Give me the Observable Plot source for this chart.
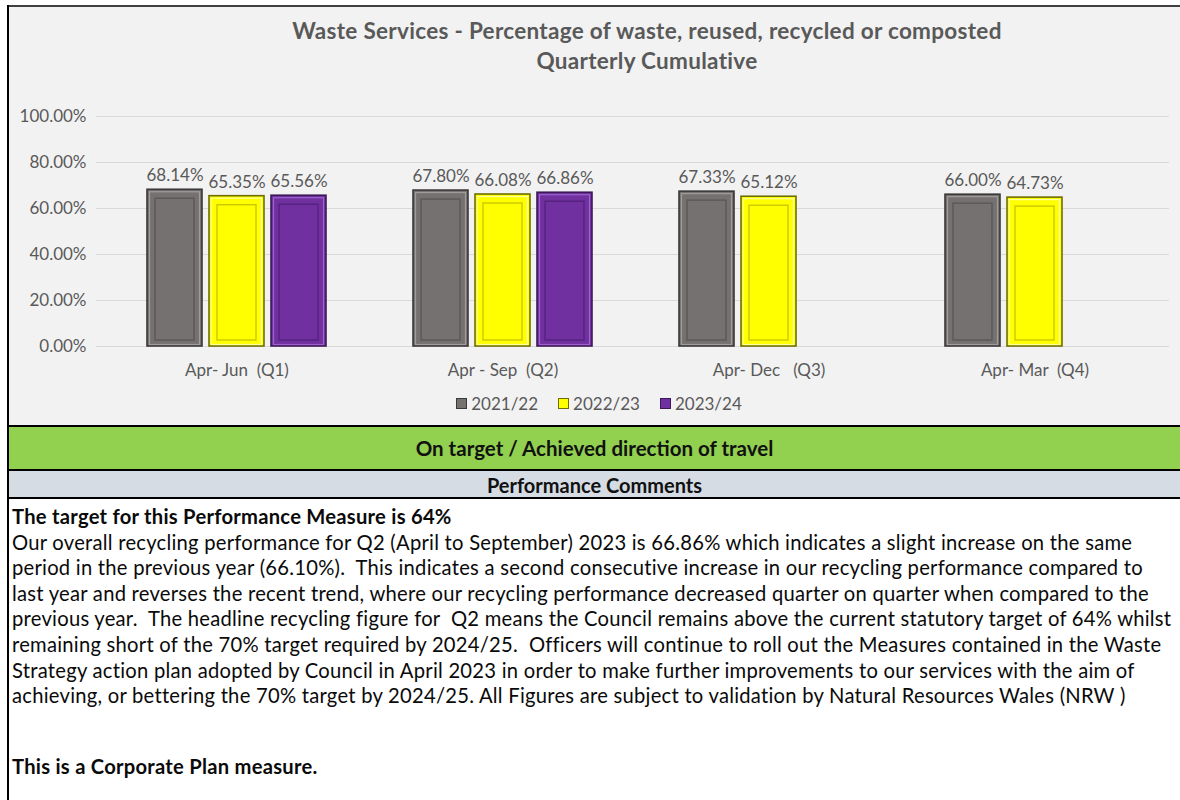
<!DOCTYPE html>
<html>
<head>
<meta charset="utf-8">
<script src="https://cdn.jsdelivr.net/npm/d3@7"></script>
<script src="https://cdn.jsdelivr.net/npm/@observablehq/plot@0.6"></script>
<style>
  html, body { margin: 0; padding: 0; background: #fff; }
  #page { position: relative; width: 1180px; height: 800px; overflow: hidden; font-family: Lato, "Open Sans", sans-serif; }
  .abs { position: absolute; }
  #leftBorder { left: 7px; top: 5px; width: 2px; height: 795px; background: #000; }
  #panel { left: 9px; top: 5px; width: 1171px; height: 418px; background: #f2f2f2; border-top: 2px solid #404040; }
  #title { left: 95px; top: 16px; width: 1104px; text-align: center; font-weight: bold; font-size: 22.5px; letter-spacing: 0.3px; line-height: 30px; color: #595959; }
  #chart { left: 9px; top: 95px; }
  #legend { left: 18px; top: 393px; width: 1162px; height: 20px; display: flex; justify-content: center; align-items: center; gap: 20px; font-size: 17px; color: #595959; }
  .item { display: flex; align-items: center; gap: 4px; }
  .sw { width: 9px; height: 9px; border: 1px solid #333; }
  #green { left: 9px; top: 425px; width: 1171px; height: 42px; background: #92d050; border-top: 2px solid #000; border-bottom: 2px solid #000; text-align: center; line-height: 42px; font-weight: bold; font-size: 20.5px; color: #111; }
  #grey { left: 9px; top: 471px; width: 1171px; height: 26px; background: #d6dce4; border-bottom: 2px solid #000; text-align: center; line-height: 28px; font-weight: bold; font-size: 20px; color: #111; }
  #body { left: 12px; top: 504px; font-size: 20.2px; letter-spacing: 0.25px; line-height: 25.6px; color: #0a0a0a; white-space: pre; }
  #body .b { font-weight: bold; }
  #footer { left: 12px; top: 754px; font-size: 20.2px; letter-spacing: 0.25px; line-height: 25.6px; color: #0a0a0a; font-weight: bold; white-space: pre; }
</style>
</head>
<body>
<div id="page">
  <div id="panel" class="abs"></div>
  <div id="leftBorder" class="abs"></div>
  <div id="title" class="abs"></div>
  <div id="chart" class="abs"></div>
  <div id="legend" class="abs"></div>
  <div id="green" class="abs"></div>
  <div id="grey" class="abs"></div>
  <div id="body" class="abs"></div>
  <div id="footer" class="abs"></div>
</div>
<script>
// ---- Data ----
const titleLines = ["Waste Services - Percentage of waste, reused, recycled or composted", "Quarterly Cumulative"];
const quarters = ["Apr- Jun\u00a0\u00a0(Q1)", "Apr - Sep\u00a0\u00a0(Q2)", "Apr- Dec\u00a0\u00a0\u00a0(Q3)", "Apr- Mar\u00a0\u00a0(Q4)"];
const years = ["2021/22", "2022/23", "2023/24"];
const values2021 = [68.14, 67.80, 67.33, 66.00];
const values2022 = [65.35, 66.08, 65.12, 64.73];
const values2023 = [65.56, 66.86, null, null];
const yTicks = [0, 20, 40, 60, 80, 100];
const statusText = "On target / Achieved direction of travel";
const commentsHeader = "Performance Comments";
const commentLines = [
  "Our overall recycling performance for Q2 (April to September) 2023 is 66.86% which indicates a slight increase on the same",
  "period in the previous year (66.10%).  This indicates a second consecutive increase in our recycling performance compared to",
  "last year and reverses the recent trend, where our recycling performance decreased quarter on quarter when compared to the",
  "previous year.  The headline recycling figure for  Q2 means the Council remains above the current statutory target of 64% whilst",
  "remaining short of the 70% target required by 2024/25.  Officers will continue to roll out the Measures contained in the Waste",
  "Strategy action plan adopted by Council in April 2023 in order to make further improvements to our services with the aim of",
  "achieving, or bettering the 70% target by 2024/25. All Figures are subject to validation by Natural Resources Wales (NRW )"
];
const targetLine = "The target for this Performance Measure is 64%";
const footerLine = "This is a Corporate Plan measure.";

// ---- Styles ----
const fillColors = ["#767171", "#ffff00", "#7030a0"];
const edgeColors = ["#3a3838", "#6e6e00", "#3c1a57"];
const innerColors = ["#5b5858", "#c9c900", "#55237e"];
const lightColors = ["#a09c9c", "#ffffa0", "#9d62cc"];

// ---- Build table ----
const seriesValues = [values2021, values2022, values2023];
const data = [];
years.forEach((yr, i) => {
  quarters.forEach((q, j) => {
    const v = seriesValues[i][j];
    if (v != null) data.push({quarter: q, year: yr, value: v, idx: i});
  });
});

const fmt = d => d.toFixed(2) + "%";

const chart = Plot.plot({
  width: 1171,
  height: 290,
  marginLeft: 136,
  marginRight: 55,
  marginTop: 21,
  marginBottom: 39,
  style: {background: "transparent", color: "#595959", fontFamily: "Lato, 'Open Sans', sans-serif", overflow: "visible"},
  fx: {domain: quarters, paddingInner: 0.32, paddingOuter: 0, label: null},
  x: {domain: years, paddingInner: 0.11, paddingOuter: 0, axis: null},
  y: {domain: [0, 100], label: null},
  color: {domain: years, range: fillColors},
  marks: [
    Plot.ruleY(yTicks, {y: d => d, stroke: "#d9d9d9", strokeWidth: 1.2, insetLeft: -50, insetRight: -44}),
    Plot.axisY({ticks: yTicks, tickFormat: fmt, tickSize: 0, tickPadding: 60, fontSize: 17, label: null}),
    Plot.axisFx({anchor: "bottom", tickSize: 0, tickPadding: 17, fontSize: 17, label: null}),
    Plot.barY(data, {fx: "quarter", x: "year", y: "value", fill: "year", stroke: d => edgeColors[d.idx], strokeWidth: 1.6}),
    Plot.barY(data, {fx: "quarter", x: "year", y: "value", fill: "none", stroke: d => lightColors[d.idx], strokeWidth: 1.2, inset: 2.5, insetBottom: 1.5}),
    Plot.barY(data, {fx: "quarter", x: "year", y: "value", fill: "none", stroke: d => innerColors[d.idx], strokeWidth: 1.4, insetLeft: 8, insetRight: 8, insetTop: 9, insetBottom: 6}),
    Plot.text(data, {fx: "quarter", x: "year", y: "value", text: d => fmt(d.value), dy: -14, fontSize: 17, fill: "#595959"})
  ]
});
document.getElementById("chart").appendChild(chart);

document.getElementById("title").innerHTML = titleLines.join("<br>");

const legend = document.getElementById("legend");
years.forEach((yr, i) => {
  const it = document.createElement("div");
  it.className = "item";
  const sw = document.createElement("div");
  sw.className = "sw";
  sw.style.background = fillColors[i];
  sw.style.borderColor = edgeColors[i];
  const t = document.createElement("span");
  t.textContent = yr;
  it.appendChild(sw); it.appendChild(t);
  legend.appendChild(it);
});

document.getElementById("green").textContent = statusText;
document.getElementById("grey").textContent = commentsHeader;
const body = document.getElementById("body");
const tl = document.createElement("div"); tl.className = "b"; tl.textContent = targetLine; body.appendChild(tl);
commentLines.forEach(l => { const d = document.createElement("div"); d.textContent = l; body.appendChild(d); });
document.getElementById("footer").textContent = footerLine;
</script>
</body>
</html>
